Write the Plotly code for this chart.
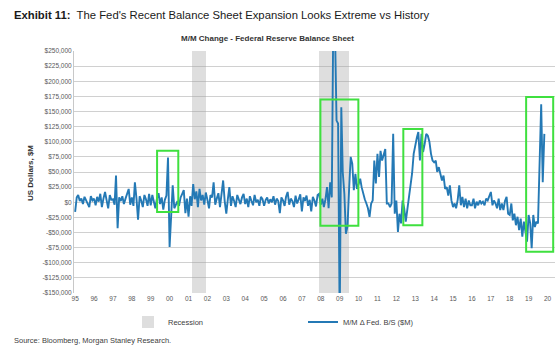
import pandas as pd
import plotly.graph_objects as go

# ---------------- data ----------------
series_start = "1995-01-01"
series_name = "M/M \u0394 Fed. B/S ($M)"

# Month-over-month change in the Fed balance sheet, $M (Jan 1995 ... Nov 2019)
mm_change = [
    -16000, 8000, 12000, 2000, 6000, -3000, 9000, 4000, -2000, -8000, 10000, 3000,        # 1995
    6000, -5000, 9000, 1000, 14000, -8000, 6000, 17000, 3000, -10000, 12000, 4000,        # 1996
    5000, -4000, 44000, -43000, 8000, 2000, 10000, -3000, 6000, 15000, 22000, -4000,      # 1997
    8000, -6000, 33000, 6000, -29000, 10000, 3000, -8000, 12000, 5000, -6000, 14000,      # 1998
    -5000, 12000, 2000, -10000, 6000, 15000, -3000, 8000, -12000, 4000, 11000, 74000,     # 1999
    -74000, -5000, 28000, -10000, -4000, 2000, -6000, 8000, 14000, 20000, -18000, 6000,   # 2000
    -24000, 10000, -6000, 30000, 5000, 18000, -8000, 22000, 3000, 12000, -4000, 16000,    # 2001
    4000, -10000, 12000, 8000, 33000, -4000, 6000, 15000, -8000, 10000, 36000, 2000,      # 2002
    -19000, 6000, 25000, -6000, 10000, 2000, -8000, 12000, 4000, -3000, 8000, 14000,      # 2003
    -3000, 6000, -8000, 10000, 2000, -5000, 12000, 0, 4000, -6000, 9000, 5000,            # 2004
    -6000, 4000, 8000, -2000, 5000, 0, 10000, -4000, 6000, 2000, -18000, 8000,            # 2005
    3000, -6000, 9000, 17000, -4000, 6000, 2000, -8000, 11000, -2000, 5000, 13000,        # 2006
    -15000, 8000, 2000, 11000, -6000, 4000, -15000, 9000, 3000, -7000, 12000, 14000,      # 2007
    -4000, 6000, -8000, 5000, 25000, -10000, 33000, 8000, 320000, 290000, 135000, 130000, # 2008
    -200000, 157000, 50000, 14000, -52000, -40000, 20000, 75000, 64000, 20000, 47000, 22000,  # 2009
    30000, 39000, 25000, 14000, 5000, -2000, -10000, -24000, -2000, 3000, 69000, 31000,   # 2010
    80000, 42000, 85000, 69000, 80000, 88000, -2000, -2000, -8000, -2000, 113000, -19000, # 2011
    3000, -49000, -19000, -35000, 3000, -10000, -32000, -13000, 12000, 25000, 48000, 80000,   # 2012
    96000, 107000, 116000, 69000, 113000, 83000, 96000, 113000, 110000, 100000, 80000, 69000, # 2013
    66000, 69000, 50000, 58000, 47000, 36000, 44000, 22000, 25000, 11000, 28000, 3000,    # 2014
    -8000, -2000, -10000, 4000, 28000, -5000, 9000, -8000, 6000, -10000, 3000, -5000,     # 2015
    -5000, 6000, -10000, 1000, -5000, 3000, -2000, 1000, -5000, 6000, 3000, 9000,         # 2016
    17000, -5000, 3000, -2000, -10000, 6000, -13000, -2000, -13000, 2000, 9000, -19000,   # 2017
    -21000, -2000, -30000, -19000, -38000, -24000, -46000, -27000, -57000, -32000, -52000, -65000,  # 2018
    -21000, -35000, -76000, -21000, -41000, -32000, -35000, 60000, 162000, 33000, 113000,  # 2019
]

recession_start = ["2001-03-01", "2007-12-01"]
recession_end = ["2001-11-30", "2009-06-30"]

# highlighted periods (green boxes)
highlight_x0 = ["1999-05-04", "2007-12-25", "2012-05-15", "2018-11-14"]
highlight_x1 = ["2000-06-17", "2009-12-28", "2013-05-18", "2020-04-20"]
highlight_y0 = [-16000, -39000, -38000, -82000]
highlight_y1 = [85000, 170000, 121000, 174000]

year_ticks = ["1995-01-01", "1996-01-01", "1997-01-01", "1998-01-01", "1999-01-01",
              "2000-01-01", "2001-01-01", "2002-01-01", "2003-01-01", "2004-01-01",
              "2005-01-01", "2006-01-01", "2007-01-01", "2008-01-01", "2009-01-01",
              "2010-01-01", "2011-01-01", "2012-01-01", "2013-01-01", "2014-01-01",
              "2015-01-01", "2016-01-01", "2017-01-01", "2018-01-01", "2019-01-01",
              "2020-01-01"]
year_labels = ["95", "96", "97", "98", "99", "00", "01", "02", "03", "04", "05", "06",
               "07", "08", "09", "10", "11", "12", "13", "14", "15", "16", "17", "18",
               "19", "20"]

y_tickvals = [-150000, -125000, -100000, -75000, -50000, -25000, 0, 25000, 50000,
              75000, 100000, 125000, 150000, 175000, 200000, 225000, 250000]
y_ticktext = ["-$150,000", "-$125,000", "-$100,000", "-$75,000", "-$50,000", "-$25,000",
              "$0", "$25,000", "$50,000", "$75,000", "$100,000", "$125,000", "$150,000",
              "$175,000", "$200,000", "$225,000", "$250,000"]

# ---------------- figure ----------------
Y_MIN, Y_MAX = -150000, 250000
dates = pd.date_range(series_start, periods=len(mm_change), freq="MS")

rs = pd.to_datetime(recession_start)
re_ = pd.to_datetime(recession_end)
rec_mid = rs + (re_ - rs) / 2
rec_width = [(e - s).total_seconds() * 1000 for s, e in zip(rs, re_)]

fig = go.Figure()
fig.add_trace(go.Bar(
    x=rec_mid, y=[Y_MAX - Y_MIN] * len(rs), base=Y_MIN, width=rec_width,
    name="Recession", marker=dict(color="rgba(160,160,160,0.35)", line=dict(width=0)),
    hoverinfo="skip",
))
fig.add_trace(go.Scatter(
    x=dates, y=mm_change, mode="lines", name=series_name,
    line=dict(color="#2479b5", width=1.9),
))

for x0, x1, y0, y1 in zip(highlight_x0, highlight_x1, highlight_y0, highlight_y1):
    fig.add_shape(type="rect", xref="x", yref="y", x0=x0, x1=x1, y0=y0, y1=y1,
                  line=dict(color="#3fe03f", width=2), fillcolor="rgba(0,0,0,0)", layer="above")

FONT = "Liberation Sans, Arial, sans-serif"
L, R, T, B = 74, 5, 51, 57
W, H = 560, 350
pw, ph = W - L - R, H - T - B

def px_x(px):
    return (px - L) / pw

def px_y(py):
    return (H - B - py) / ph

fig.update_layout(
    width=W, height=H,
    margin=dict(l=L, r=R, t=T, b=B, autoexpand=False),
    paper_bgcolor="white", plot_bgcolor="white",
    font=dict(family=FONT, color="#404040"),
    showlegend=True,
    legend=dict(orientation="h", x=px_x(128), xanchor="left", y=px_y(322), yanchor="middle",
                font=dict(size=7.5, color="#404040"), entrywidth=130, entrywidthmode="pixels",
                bgcolor="rgba(0,0,0,0)", traceorder="normal"),
    bargap=0,
)
fig.update_xaxes(
    type="date", range=["1994-12-10", "2020-05-25"],
    tickvals=year_ticks, ticktext=year_labels, tickfont=dict(size=6.5, color="#595959"),
    showgrid=False, zeroline=False, showline=False, ticks="",
)
fig.update_yaxes(
    range=[Y_MIN, Y_MAX], tickvals=y_tickvals, ticktext=y_ticktext,
    tickfont=dict(size=6.5, color="#595959"), showgrid=True, gridcolor="#d0d0d0", gridwidth=1.3,
    zeroline=False, showline=True, linecolor="#c8c8c8", linewidth=1, ticks="",
)

fig.add_annotation(xref="paper", yref="paper", x=px_x(12), y=px_y(15), xanchor="left", yanchor="middle",
                   text="<b>Exhibit 11:</b>  The Fed's Recent Balance Sheet Expansion Looks Extreme vs History",
                   showarrow=False, font=dict(size=11.3, color="#1a1a1a", family=FONT))
fig.add_annotation(xref="paper", yref="paper", x=px_x(267), y=px_y(38), xanchor="center", yanchor="middle",
                   text="<b>M/M Change - Federal Reserve Balance Sheet</b>",
                   showarrow=False, font=dict(size=8, color="#333333", family=FONT))
fig.add_annotation(xref="paper", yref="paper", x=px_x(30), y=px_y(173), xanchor="center", yanchor="middle",
                   text="<b>US Dollars, $M</b>", textangle=-90,
                   showarrow=False, font=dict(size=8, color="#333333", family=FONT))
fig.add_annotation(xref="paper", yref="paper", x=px_x(12), y=px_y(340), xanchor="left", yanchor="middle",
                   text="Source: Bloomberg, Morgan Stanley Research.",
                   showarrow=False, font=dict(size=7.5, color="#404040", family=FONT))

fig.write_html("out.html")
